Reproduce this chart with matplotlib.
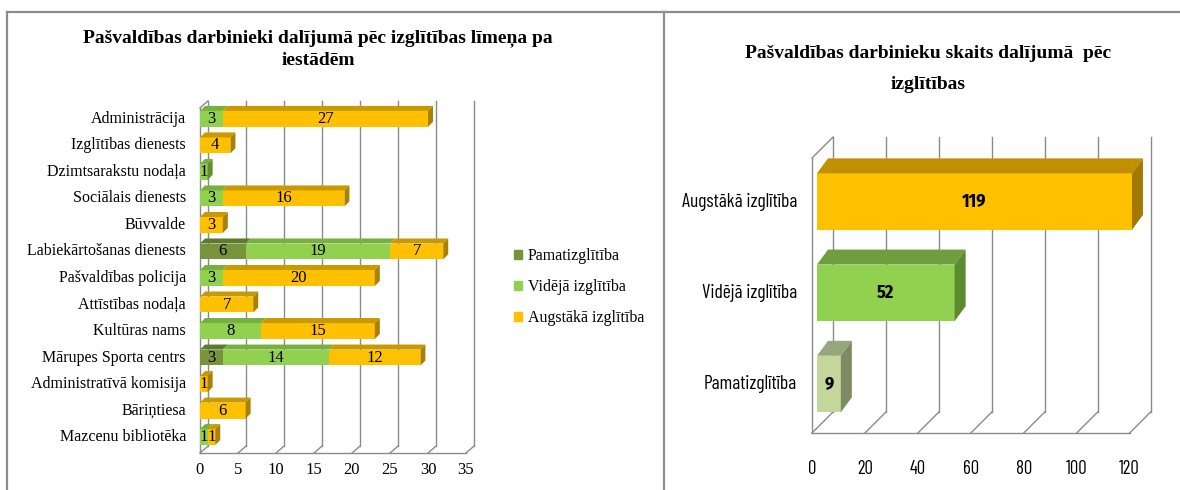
import matplotlib
matplotlib.use("Agg")
import numpy as np
import matplotlib.pyplot as plt
from matplotlib.patches import Polygon, Patch
from matplotlib.lines import Line2D
from matplotlib.transforms import offset_copy

# kreisais grafiks: darbinieki pa iestādēm
iestades = ["Administrācija", "Izglītības dienests", "Dzimtsarakstu nodaļa",
            "Sociālais dienests", "Būvvalde", "Labiekārtošanas dienests",
            "Pašvaldības policija", "Attīstības nodaļa", "Kultūras nams",
            "Mārupes Sporta centrs", "Administratīvā komisija", "Bāriņtiesa",
            "Mazcenu bibliotēka"]
pamat = [0, 0, 0, 0, 0, 6, 0, 0, 0, 3, 0, 0, 0]
videja = [3, 0, 1, 3, 0, 19, 3, 0, 8, 14, 0, 0, 1]
augst = [27, 4, 0, 16, 3, 7, 20, 7, 15, 12, 1, 6, 1]
serijas = ["Pamatizglītība", "Vidējā izglītība", "Augstākā izglītība"]
ticks_l = [0, 5, 10, 15, 20, 25, 30, 35]

# labais grafiks: kopā pēc izglītības
limeni = ["Pamatizglītība", "Vidējā izglītība", "Augstākā izglītība"]
skaits = [9, 52, 119]
ticks_r = [0, 20, 40, 60, 80, 100, 120]

SERIF = ["Liberation Serif", "DejaVu Serif"]
NARROW = ["Barlow Condensed", "DejaVu Sans"]
NARROW_B = ["Fira Sans Condensed", "Barlow Condensed", "DejaVu Sans"]
GRID = "#8a8a8a"

# front, top, side colours
col_l = [("#77933C", "#5E7A2E", "#4F6626"),
         ("#92D050", "#78B03E", "#5F8F2E"),
         ("#FFC000", "#C99A00", "#A98000")]
col_r = [("#C4D79B", "#97A77A", "#7D8B62"),
         ("#92D050", "#6E9E3E", "#5B8A30"),
         ("#FFC000", "#C09000", "#A37A00")]


def box(ax, y, left, width, h, bdx, bdy, up, cols, side):
    front, top, sidec = cols
    ax.barh(y, width, left=left, height=h, color=front, zorder=3, lw=0)
    ty = y + up * h / 2
    by = y - up * h / 2
    dy = up * bdy
    r = left + width
    ax.add_patch(Polygon([(left, ty), (r, ty), (r + bdx, ty + dy), (left + bdx, ty + dy)],
                         closed=True, fc=top, lw=0, zorder=3, clip_on=False))
    if side:
        ax.add_patch(Polygon([(r, ty), (r + bdx, ty + dy), (r + bdx, by + dy), (r, by)],
                             closed=True, fc=sidec, lw=0, zorder=3, clip_on=False))


fig = plt.figure(figsize=(11.8, 4.9), dpi=100)

# ---------------- left chart ----------------
ax = fig.add_axes([200 / 1180, 37 / 490, 266 / 1180, 354 / 490])
ax.set_xlim(0, 35)
ax.set_ylim(12.6, -0.75)
ax.axis("off")

dxl, dyl = 1.05, 0.26
yfl, ytop = 12.6, -0.675
for t in ticks_l:
    ax.plot([t + dxl, t + dxl], [yfl - dyl, ytop], color=GRID, lw=1, zorder=1, clip_on=False)
    ax.plot([t, t + dxl], [yfl, yfl - dyl], color=GRID, lw=1, zorder=1, clip_on=False)
    ax.text(t, yfl, str(t), ha="center", va="top", fontsize=12, family=SERIF,
            transform=offset_copy(ax.transData, fig, x=0, y=-9, units="dots"))
ax.plot([0, 35], [yfl, yfl], color=GRID, lw=1, zorder=1, clip_on=False)
ax.plot([0, 0], [yfl, ytop + dyl], color=GRID, lw=1, zorder=1, clip_on=False)
ax.plot([0, dxl], [ytop + dyl, ytop], color=GRID, lw=1, zorder=1, clip_on=False)

h = 0.6
for i, name in enumerate(iestades):
    vals = [pamat[i], videja[i], augst[i]]
    last = max(k for k in range(3) if vals[k] > 0)
    left = 0
    for k in range(3):
        v = vals[k]
        if v == 0:
            continue
        box(ax, i, left, v, h, 0.66, 0.19, -1, col_l[k], k == last)
        ax.text(left + v / 2, i, str(v), ha="center", va="center", fontsize=12,
                family=SERIF, zorder=5)
        left += v
    ax.text(0, i, name, ha="right", va="center", fontsize=11.5, family=SERIF,
            transform=offset_copy(ax.transData, fig, x=-14, y=0, units="dots"))

fig.text(318 / 1180, 1 - 49 / 490,
         "Pašvaldības darbinieki dalījumā pēc izglītības līmeņa pa\niestādēm",
         ha="center", va="center", fontsize=14, fontweight="bold", family=SERIF,
         linespacing=1.4)

handles = [Patch(color=col_l[k][0]) for k in range(3)]
fig.legend(handles, serijas, loc="center left", bbox_to_anchor=(514 / 1180, 1 - 287 / 490),
           frameon=False, handlelength=0.5, handleheight=0.5, handletextpad=0.35,
           labelspacing=0.95, borderpad=0, borderaxespad=0,
           prop={"family": SERIF, "size": 11.5})

# ---------------- right chart ----------------
axr = fig.add_axes([817 / 1180, (490 - 434.2) / 490, 317.6 / 1180, 301 / 490])
axr.set_xlim(0, 120)
axr.set_ylim(-0.55, 2.75)
axr.axis("off")

fdx, fdy = -1.89, -0.055     # floor front relative to bar plane
bkx, bky = 6.04, 0.175       # back wall relative to bar plane
ytop_r = 2.707
yf = -0.537
for t in ticks_r:
    axr.plot([t + bkx, t + bkx], [yf + (bky - fdy), ytop_r], color=GRID, lw=1, zorder=1, clip_on=False)
    axr.plot([t + fdx, t + bkx], [yf, yf + (bky - fdy)], color=GRID, lw=1, zorder=1, clip_on=False)
    axr.text(t + fdx, yf, str(t), ha="center", va="top", fontsize=13.5, family=NARROW,
             transform=offset_copy(axr.transData, fig, x=0, y=-27, units="dots"))
axr.plot([fdx, 120 + fdx], [yf, yf], color=GRID, lw=1, zorder=1, clip_on=False)
axr.plot([fdx, fdx], [yf, ytop_r - (bky - fdy)], color=GRID, lw=1, zorder=1, clip_on=False)
axr.plot([fdx, bkx], [ytop_r - (bky - fdy), ytop_r], color=GRID, lw=1, zorder=1, clip_on=False)

for i, (name, v) in enumerate(zip(limeni, skaits)):
    box(axr, i, 0, v, 0.62, 4.16, 0.164, 1, col_r[i], True)
    axr.text(v / 2, i, str(v), ha="center", va="center", fontsize=13,
             fontweight="bold", family=NARROW_B, zorder=5)
    axr.text(0, i, name, ha="right", va="center", fontsize=14, family=NARROW,
             transform=offset_copy(axr.transData, fig, x=-20, y=0, units="dots"))

fig.text(928 / 1180, 1 - 69 / 490, "Pašvaldības darbinieku skaits dalījumā  pēc\nizglītības",
         ha="center", va="center", fontsize=14, fontweight="bold", family=SERIF,
         linespacing=2.05)

# panel frames
for xs, ys in [([7, 7], [12, 490]), ([7, 1180], [12, 12]), ([664, 664], [12, 490])]:
    fig.add_artist(Line2D([x / 1180 for x in xs], [1 - y / 490 for y in ys],
                          color="#8c8c8c", lw=1.6))

fig.savefig("out.png", dpi=100)
